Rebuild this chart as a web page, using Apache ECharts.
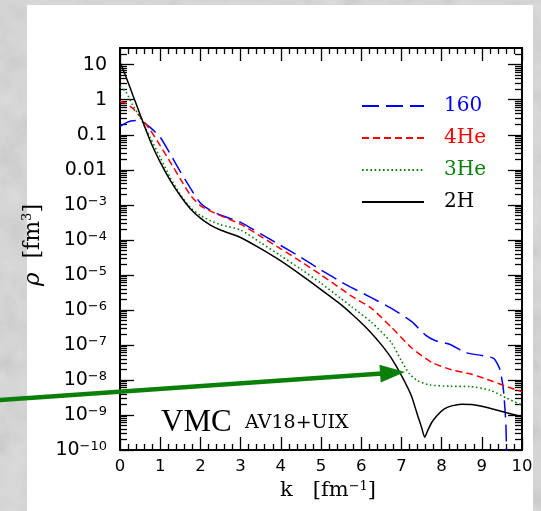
<!DOCTYPE html>
<html>
<head>
<meta charset="utf-8">
<script src="https://cdn.jsdelivr.net/npm/echarts@6/dist/echarts.min.js"></script>
<style>
  html, body { margin: 0; padding: 0; width: 541px; height: 511px; overflow: hidden; background: #d9d9d9; }
  #marble { position: absolute; left: 0; top: 0; width: 541px; height: 511px; opacity: 0.35;
    background-image: url("data:image/svg+xml;utf8,<svg xmlns='http://www.w3.org/2000/svg' width='541' height='511'><filter id='n'><feTurbulence type='fractalNoise' baseFrequency='0.035' numOctaves='4' seed='7'/><feColorMatrix type='saturate' values='0'/></filter><rect width='100%' height='100%' filter='url(%23n)'/></svg>"); }
  #panel { position: absolute; left: 27px; top: 5px; width: 506px; height: 506px; background: #ffffff; }
  #chart { position: absolute; left: 0; top: 0; width: 541px; height: 511px; }
</style>
</head>
<body>
<div id="marble"></div>
<div id="panel"></div>
<div id="chart"></div>
<script>
// Momentum distributions rho(k) from VMC with AV18+UIX

// 16O
const kO16 = [0, 0.15, 0.3, 0.45, 0.6, 0.75, 1.0, 1.25, 1.5, 1.75, 2.0, 2.25, 2.5, 3.0, 3.5, 4.0, 4.5, 5.0, 5.5, 5.75, 6.25, 6.75, 7.25, 7.6, 7.85, 8.2, 8.6, 9.0, 9.3, 9.45, 9.54, 9.6, 9.63];
const rhoO16 = [0.174, 0.219, 0.251, 0.257, 0.219, 0.162, 0.085, 0.0282, 8.9e-3, 3.0e-3, 1.12e-3, 6.9e-4, 5.1e-4, 3.16e-4, 1.48e-4, 6.9e-5, 3.16e-5, 1.38e-5, 6.3e-6, 4.4e-6, 2.24e-6, 1.1e-6, 4.7e-7, 1.9e-7, 1.32e-7, 1.05e-7, 6.0e-8, 5.0e-8, 4.1e-8, 2.0e-8, 5.0e-9, 5.0e-10, 1e-11];

// 4He
const k4He = [0, 0.15, 0.32, 0.5, 0.75, 1.0, 1.25, 1.5, 1.75, 2.0, 2.25, 2.5, 3.0, 3.5, 4.0, 4.5, 5.0, 5.5, 5.75, 6.25, 6.75, 7.25, 7.75, 8.25, 8.75, 9.25, 9.65, 10];
const rho4He = [0.91, 0.79, 0.56, 0.33, 0.138, 0.049, 0.0166, 5.5e-3, 1.9e-3, 9.5e-4, 6.6e-4, 4.9e-4, 2.8e-4, 1.26e-4, 5.5e-5, 2.4e-5, 1.0e-5, 4.0e-6, 2.5e-6, 1.12e-6, 3.2e-7, 8.3e-8, 3.2e-8, 1.95e-8, 1.45e-8, 9.3e-9, 6.3e-9, 4.6e-9];

// 3He
const k3He = [0, 0.15, 0.32, 0.5, 0.75, 1.0, 1.25, 1.5, 1.75, 2.0, 2.25, 2.5, 3.0, 3.5, 4.0, 4.5, 5.0, 5.5, 5.75, 6.25, 6.75, 7.0, 7.2, 7.4, 7.7, 8.2, 8.7, 9.2, 9.6, 10];
const rho3He = [2.4, 1.66, 0.69, 0.31, 0.083, 0.0224, 6.0e-3, 1.95e-3, 8.3e-4, 5.0e-4, 3.5e-4, 2.7e-4, 1.9e-4, 8.3e-5, 3.5e-5, 1.45e-5, 5.8e-6, 2.1e-6, 1.26e-6, 4.5e-7, 1.17e-7, 3.5e-8, 1.5e-8, 9.5e-9, 7.2e-9, 6.6e-9, 6.5e-9, 5.1e-9, 3.1e-9, 1.9e-9];

// 2H
const k2H = [0, 0.15, 0.32, 0.5, 0.75, 1.0, 1.25, 1.5, 1.75, 2.0, 2.25, 2.5, 3.0, 3.5, 4.0, 4.5, 5.0, 5.5, 5.75, 6.0, 6.25, 6.5, 6.75, 7.0, 7.25, 7.4, 7.5, 7.58, 7.65, 7.75, 7.9, 8.05, 8.25, 8.5, 8.75, 9.0, 9.5, 10];
const rho2H = [12.0, 4.47, 1.35, 0.38, 0.0676, 0.0166, 5.0e-3, 1.82e-3, 7.76e-4, 4.17e-4, 2.63e-4, 1.91e-4, 1.17e-4, 5.6e-5, 2.5e-5, 1.0e-5, 3.8e-6, 1.41e-6, 7.9e-7, 4.3e-7, 2.2e-7, 1.02e-7, 4.2e-8, 1.35e-8, 3.5e-9, 1.0e-9, 4.5e-10, 2.3e-10, 3.5e-10, 6.0e-10, 1.0e-9, 1.45e-9, 1.82e-9, 2.04e-9, 2.0e-9, 1.78e-9, 1.26e-9, 8.9e-10];

// Axis ticks and labels
const xTickLabels = ['0', '1', '2', '3', '4', '5', '6', '7', '8', '9', '10'];
const yTickValues = [10, 1, 0.1, 0.01, 1e-3, 1e-4, 1e-5, 1e-6, 1e-7, 1e-8, 1e-9, 1e-10];
const yTickLabels = ['10', '1', '0.1', '0.01', '10^−3', '10^−4', '10^−5', '10^−6', '10^−7', '10^−8', '10^−9', '10^−10'];

// Legend entries
const seriesNames = ['160', '4He', '3He', '2H'];
const seriesColors = ['#0000ff', '#ff0000', '#0a800a', '#000000'];

// Arrow annotation (data coordinates: tail, tip)
const arrowTail = [-3.0, 2.66e-9];
const arrowTip = [7.09, 1.7e-8];

// minor log ticks: 2..9 in each decade
const yMinor = [];
for (let e = -10; e <= 1; e++) {
  for (let m = 2; m <= 9; m++) {
    const v = m * Math.pow(10, e);
    if (v < 30) yMinor.push(v);
  }
}

function pairs(xs, ys) { return xs.map((x, i) => [x, ys[i]]); }
function richLabel(t) {
  const p = t.split('^');
  return p.length > 1 ? '{b|' + p[0] + '}{s|' + p[1] + '}' : '{b|' + t + '}';
}
function yLabel(value) {
  const i = yTickValues.findIndex(v => Math.abs(v - value) <= v * 1e-6);
  return i < 0 ? '' : richLabel(yTickLabels[i]);
}

const frame = { color: '#000', width: 2 };
const tickStyle = { color: '#000', width: 1.3 };
const tickFont = 'DejaVu Sans';

function xAxisDef(pos, withLabels) {
  const a = {
    type: 'value', min: 0, max: 10, interval: 1, position: pos,
    axisLine: { show: true, onZero: false, lineStyle: frame },
    axisTick: { show: true, inside: true, length: 13, lineStyle: tickStyle },
    minorTick: { show: true, splitNumber: 5, length: 6, lineStyle: tickStyle },
    splitLine: { show: false },
    axisLabel: { show: withLabels, margin: 8, fontFamily: tickFont, fontSize: 16.5, color: '#000',
      formatter: v => xTickLabels[Math.round(v)] }
  };
  if (withLabels) {
    a.name = '{t|k   [fm}{s|−1}{t|]}';
    a.nameLocation = 'middle';
    a.nameGap = 21;
    a.nameTextStyle = {
      padding: [0, 0, 0, 14],
      rich: {
        t: { fontFamily: 'DejaVu Serif', fontSize: 21, color: '#000', lineHeight: 22 },
        s: { fontFamily: 'DejaVu Serif', fontSize: 13, color: '#000', verticalAlign: 'top', lineHeight: 12 }
      }
    };
  }
  return a;
}

function yAxisDef(pos, major, withLabels) {
  const a = {
    type: 'log', logBase: 10, min: 1e-10, max: 30, position: pos,
    axisLine: { show: major, onZero: false, lineStyle: frame },
    axisTick: { show: true, inside: true, length: major ? 14 : 7, lineStyle: tickStyle,
      customValues: major ? yTickValues : yMinor },
    minorTick: { show: false },
    splitLine: { show: false },
    axisLabel: { show: withLabels, margin: 13, formatter: yLabel,
      customValues: yTickValues,
      rich: {
        b: { fontFamily: tickFont, fontSize: 19, color: '#000', lineHeight: 20 },
        s: { fontFamily: tickFont, fontSize: 13, color: '#000', verticalAlign: 'top', lineHeight: 12 }
      } }
  };
  if (withLabels) {
    a.name = '{r|ρ}{t|  [fm}{s|3}{t|]}';
    a.nameLocation = 'middle';
    a.nameGap = 68;
    a.nameTextStyle = {
      padding: [0, 0, 0, 8],
      rich: {
        r: { fontFamily: 'DejaVu Serif', fontStyle: 'italic', fontSize: 23, color: '#000', lineHeight: 24 },
        t: { fontFamily: 'DejaVu Serif', fontSize: 22, color: '#000', lineHeight: 24 },
        s: { fontFamily: 'DejaVu Serif', fontSize: 13, color: '#000', verticalAlign: 'top', lineHeight: 13 }
      }
    };
  }
  return a;
}

const dashes = [[17, 7], [7, 4], [1.6, 2.6], 'solid'];
const dataSets = [pairs(kO16, rhoO16), pairs(k4He, rho4He), pairs(k3He, rho3He), pairs(k2H, rho2H)];

const chart = echarts.init(document.getElementById('chart'), null, { renderer: 'canvas' });
chart.setOption({
  animation: false,
  backgroundColor: 'transparent',
  grid: { left: 120, right: 19, top: 48, bottom: 61 },
  xAxis: [xAxisDef('bottom', true), xAxisDef('top', false)],
  yAxis: [
    yAxisDef('left', true, true),
    yAxisDef('left', false, false),
    yAxisDef('right', true, false),
    yAxisDef('right', false, false)
  ],
  legend: {
    orient: 'vertical', left: 356, top: 91,
    itemWidth: 62, itemHeight: 20, itemGap: 12,
    selectedMode: false,
    itemStyle: { opacity: 0 },
    textStyle: { fontFamily: 'DejaVu Serif', fontSize: 20, padding: [0, 0, 0, 15] },
    data: seriesNames.map((n, i) => ({ name: n, textStyle: { color: seriesColors[i] } }))
  },
  series: seriesNames.map((n, i) => ({
    name: n, type: 'line', xAxisIndex: 0, yAxisIndex: 0,
    data: dataSets[i], symbol: 'none', showSymbol: false, smooth: 0.2,
    lineStyle: { color: seriesColors[i], width: i === 2 ? 1.6 : 1.5, type: dashes[i] },
    itemStyle: { color: seriesColors[i] },
    z: 3
  }))
});

// annotation texts and arrow, placed from data coordinates
const tail = chart.convertToPixel({ xAxisIndex: 0, yAxisIndex: 0 }, arrowTail);
const tip = chart.convertToPixel({ xAxisIndex: 0, yAxisIndex: 0 }, arrowTip);
const dx = tip[0] - tail[0], dy = tip[1] - tail[1];
const len = Math.hypot(dx, dy);
const ux = dx / len, uy = dy / len;
const headLen = 25, headHalf = 9;
const base = [tip[0] - ux * headLen, tip[1] - uy * headLen];

chart.setOption({
  graphic: [
    { type: 'line', z: 10, shape: { x1: tail[0], y1: tail[1], x2: base[0] + ux * 2, y2: base[1] + uy * 2 },
      style: { stroke: '#0a800a', lineWidth: 4.5 } },
    { type: 'polygon', z: 10, shape: { points: [tip,
        [base[0] - uy * headHalf, base[1] + ux * headHalf],
        [base[0] + uy * headHalf, base[1] - ux * headHalf]] },
      style: { fill: '#0a800a' } },
    { type: 'text', z: 10, x: 161, y: 423,
      style: { text: 'VMC', fontFamily: 'Liberation Serif', fontSize: 31, fill: '#000', verticalAlign: 'middle' } },
    { type: 'text', z: 10, x: 245, y: 423,
      style: { text: 'AV18+UIX', fontFamily: 'DejaVu Serif', fontSize: 19, fill: '#000', verticalAlign: 'middle' } }
  ]
});
</script>
</body>
</html>
